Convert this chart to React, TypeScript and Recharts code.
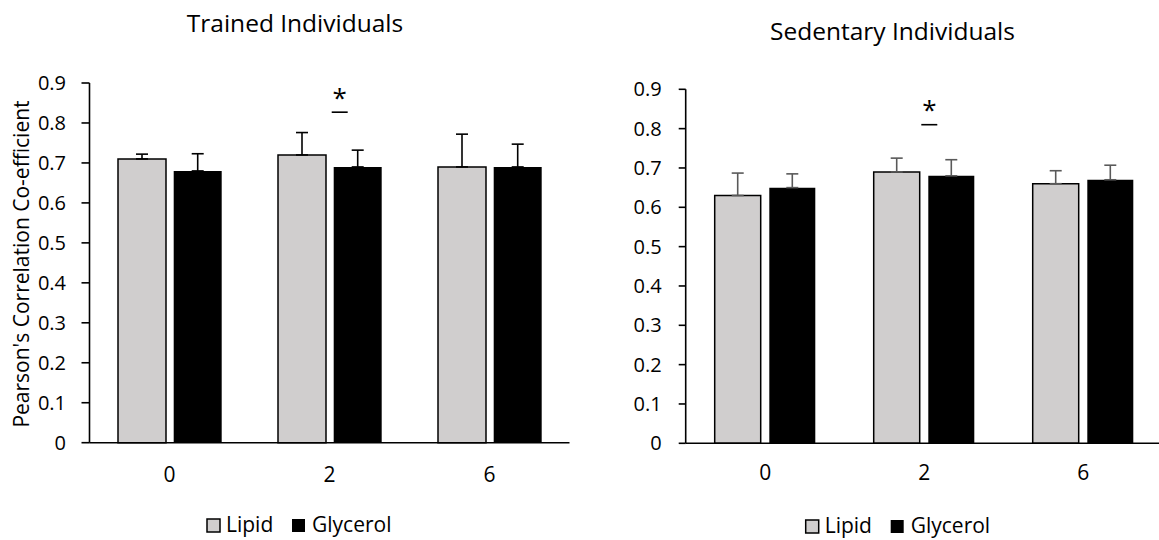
import React from 'react';
import { BarChart, Bar, XAxis, YAxis, ErrorBar, LabelList } from 'recharts';

// Hours after the intervention
const categories = ['0', '2', '6'];

// Trained individuals
const trainedLipid = [0.71, 0.72, 0.69];
const trainedLipidErr = [0.012, 0.056, 0.082];
const trainedGlycerol = [0.68, 0.69, 0.69];
const trainedGlycerolErr = [0.043, 0.042, 0.057];

// Sedentary individuals
const sedentaryLipid = [0.63, 0.69, 0.66];
const sedentaryLipidErr = [0.057, 0.035, 0.033];
const sedentaryGlycerol = [0.65, 0.68, 0.67];
const sedentaryGlycerolErr = [0.035, 0.041, 0.037];

// Y axis
const yTicks = [0, 0.1, 0.2, 0.3, 0.4, 0.5, 0.6, 0.7, 0.8, 0.9];
const yTickLabels = ['0', '0.1', '0.2', '0.3', '0.4', '0.5', '0.6', '0.7', '0.8', '0.9'];

// Significance markers (dash level and asterisk level, in axis units)
const trainedSig = { category: '2', dash: 0.827, star: 0.875 };
const sedentarySig = { category: '2', dash: 0.81, star: 0.86 };

const FONT = '"Open Sans", "Noto Sans", sans-serif';
const LIPID_FILL = '#D0CECE';

function makeRows(l: number[], le: number[], g: number[], ge: number[]) {
  return categories.map((c, i) => ({
    time: c,
    lipid: l[i],
    lipidErr: [0, le[i]],
    glycerol: g[i],
    glycerolErr: [0, ge[i]],
  }));
}

const trainedRows = makeRows(trainedLipid, trainedLipidErr, trainedGlycerol, trainedGlycerolErr);
const sedentaryRows = makeRows(sedentaryLipid, sedentaryLipidErr, sedentaryGlycerol, sedentaryGlycerolErr);

function makeSigMarker(sig: { category: string; dash: number; star: number }, dx: number) {
  return function SigMarker(props: any) {
    const idx = categories.indexOf(sig.category);
    if (props.index !== idx) return null;
    const vb = props.viewBox || props;
    const { x, y, height } = vb;
    const value = Number(props.value);
    if (!value || !height) return null;
    const base = y + height;
    const k = height / value;
    const yDash = base - sig.dash * k;
    const yStar = base - sig.star * k;
    const fs = 26;
    return (
      <g>
        <line x1={x + dx} x2={x + dx + 16} y1={yDash} y2={yDash} stroke="#000" strokeWidth={1.6} />
        <text x={x + dx + 8} y={yStar + 0.55 * fs} textAnchor="middle" fontSize={fs} fontFamily={FONT} fill="#000">
          *
        </text>
      </g>
    );
  };
}

type PanelProps = {
  rows: any[];
  width: number;
  margin: { top: number; right: number; bottom: number; left: number };
  tickSize: number;
  tickMargin: number;
  xTickMargin: number;
  errColor: string;
  barCategoryGap: number;
  barGap: number;
  sig: { category: string; dash: number; star: number };
  sigDx: number;
};

function Panel(p: PanelProps) {
  return (
    <BarChart
      width={p.width}
      height={540}
      data={p.rows}
      margin={p.margin}
      barCategoryGap={p.barCategoryGap}
      barGap={p.barGap}
    >
      <XAxis
        dataKey="time"
        height={40}
        tickLine={false}
        tickSize={0}
        tickMargin={p.xTickMargin}
        axisLine={{ stroke: '#000', strokeWidth: 1.6 }}
        tick={{ fontSize: 21, fontFamily: FONT, fill: '#000' }}
      />
      <YAxis
        width={60}
        domain={[0, 0.9]}
        ticks={yTicks}
        interval={0}
        tickFormatter={(v: number) => yTickLabels[yTicks.indexOf(v)] ?? String(v)}
        tickSize={p.tickSize}
        tickMargin={p.tickMargin}
        axisLine={{ stroke: '#000', strokeWidth: 1.6 }}
        tickLine={{ stroke: '#000', strokeWidth: 1.6 }}
        tick={{ fontSize: 20, fontFamily: FONT, fill: '#000' }}
      />
      <Bar dataKey="lipid" fill={LIPID_FILL} stroke="#000" strokeWidth={1.5} isAnimationActive={false}>
        <ErrorBar dataKey="lipidErr" width={6} strokeWidth={1.6} stroke={p.errColor} direction="y" />
      </Bar>
      <Bar dataKey="glycerol" fill="#000" isAnimationActive={false}>
        <ErrorBar dataKey="glycerolErr" width={6} strokeWidth={1.6} stroke={p.errColor} direction="y" />
        <LabelList dataKey="glycerol" content={makeSigMarker(p.sig, p.sigDx)} />
      </Bar>
    </BarChart>
  );
}

function LegendRow({ x, y }: { x: number; y: number }) {
  return (
    <g fontFamily={FONT} fontSize={21} fill="#000">
      <rect x={x} y={y - 13} width={13} height={13} fill={LIPID_FILL} stroke="#000" strokeWidth={1.5} />
      <text x={x + 19} y={y}>Lipid</text>
      <rect x={x + 85} y={y - 13} width={13} height={13} fill="#000" />
      <text x={x + 105} y={y}>Glycerol</text>
    </g>
  );
}

export default function App() {
  return (
    <div
      style={{
        position: 'absolute',
        left: 0,
        top: 0,
        width: 1159,
        height: 540,
        overflow: 'hidden',
        background: '#fff',
      }}
    >
      <div style={{ position: 'absolute', left: 0, top: 0 }}>
        <Panel
          rows={trainedRows}
          width={580}
          margin={{ top: 83, right: 10.5, bottom: 57.3, left: 29.5 }}
          tickSize={8}
          tickMargin={15.5}
          xTickMargin={24}
          errColor="#000"
          barCategoryGap={28.5}
          barGap={7.7}
          sig={trainedSig}
          sigDx={-2}
        />
      </div>
      <div style={{ position: 'absolute', left: 580, top: 0 }}>
        <Panel
          rows={sedentaryRows}
          width={600}
          margin={{ top: 89.3, right: 17.3, bottom: 56.7, left: 45.7 }}
          tickSize={7}
          tickMargin={17}
          xTickMargin={21.7}
          errColor="#595959"
          barCategoryGap={29}
          barGap={8.6}
          sig={sedentarySig}
          sigDx={-7}
        />
      </div>
      <svg
        width={1159}
        height={540}
        style={{ position: 'absolute', left: 0, top: 0, pointerEvents: 'none' }}
      >
        <text x={295} y={32} textAnchor="middle" fontFamily={FONT} fontSize={24.5} fill="#000">
          Trained Individuals
        </text>
        <text x={892.5} y={40} textAnchor="middle" fontFamily={FONT} fontSize={24.5} fill="#000">
          Sedentary Individuals
        </text>
        <text
          x={0}
          y={0}
          transform="translate(21,264) rotate(-90)"
          textAnchor="middle"
          dominantBaseline="central"
          fontFamily={FONT}
          fontSize={21}
          fill="#000"
        >
          Pearson's Correlation Co-efficient
        </text>
        <LegendRow x={207} y={532} />
        <LegendRow x={805.7} y={533} />
      </svg>
    </div>
  );
}
